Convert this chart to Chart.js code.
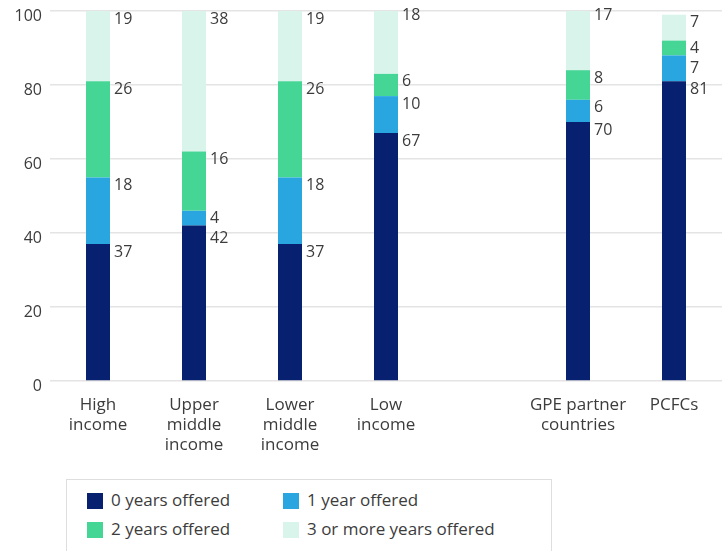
<!DOCTYPE html>
<html>
<head>
<meta charset="utf-8">
<script src="https://cdn.jsdelivr.net/npm/chart.js@4.4.1/dist/chart.umd.min.js"></script>
<style>
  body { margin: 0; background: #fff; font-family: "Open Sans", sans-serif; }
  #wrap { position: relative; width: 728px; height: 551px; overflow: hidden; }
  #chart-box { position: absolute; left: 0; top: 0; width: 728px; height: 470px; }
  #legend {
    position: absolute; left: 66px; top: 479px; width: 486px; height: 90px;
    border: 1px solid #dedede; box-sizing: border-box;
  }
  .item { position: absolute; font-size: 17px; color: #3c3c3c; line-height: 20px; white-space: nowrap; }
  .item span.sw { position: absolute; left: 0; top: 2px; width: 16px; height: 16px; }
  .item span.tx { position: absolute; left: 24px; top: -1px; }
</style>
</head>
<body>
<div id="wrap">
  <div id="chart-box"><canvas id="years-chart" width="728" height="470"></canvas></div>
  <div id="legend"></div>
</div>
<script>
var ctx = document.getElementById('years-chart');

// categories (the empty one is the spacer between income groups and GPE groups)
var categories = [
  ['High', 'income'],
  ['Upper', 'middle', 'income'],
  ['Lower', 'middle', 'income'],
  ['Low', 'income'],
  '',
  ['GPE partner', 'countries'],
  'PCFCs'
];
var seriesNames = ['0 years offered', '1 year offered', '2 years offered', '3 or more years offered'];
var zeroYears  = [37, 42, 37, 67, null, 70, 81];
var oneYear    = [18, 4, 18, 10, null, 6, 7];
var twoYears   = [26, 16, 26, 6, null, 8, 4];
var threePlus  = [19, 38, 19, 18, null, 17, 7];
var yTicks = [0, 20, 40, 60, 80, 100];

var colors = ['#072170', '#29a6e0', '#45d595', '#d9f5eb'];
var seriesValues = [zeroYears, oneYear, twoYears, threePlus];

var datasets = seriesValues.map(function (vals, i) {
  return {
    label: seriesNames[i],
    data: vals,
    backgroundColor: colors[i],
    borderWidth: 0,
    categoryPercentage: 1,
    barPercentage: 0.25
  };
});

// value labels to the right of each segment, pushed down so they don't overlap
var segmentLabels = {
  id: 'segmentLabels',
  afterDatasetsDraw: function (chart) {
    var c = chart.ctx;
    c.save();
    c.font = '16px "Open Sans"';
    c.fillStyle = '#3c3c3c';
    c.textBaseline = 'middle';
    c.textAlign = 'left';
    for (var j = 0; j < categories.length; j++) {
      var lastY = -100;
      for (var i = chart.data.datasets.length - 1; i >= 0; i--) {
        var v = chart.data.datasets[i].data[j];
        if (v == null) continue;
        var el = chart.getDatasetMeta(i).data[j];
        var y = Math.max(el.y + 8, lastY + 20);
        c.fillText(String(v), el.x + el.width / 2 + 4, y);
        lastY = y;
      }
    }
    c.restore();
  }
};

var myChart = new Chart(ctx, {
  type: 'bar',
  data: { labels: categories, datasets: datasets },
  plugins: [segmentLabels],
  options: {
    responsive: false,
    animation: false,
    layout: { padding: { top: 11, right: 6, left: 0, bottom: 0 } },
    plugins: {
      legend: { display: false },
      tooltip: { enabled: false }
    },
    scales: {
      x: {
        stacked: true,
        grid: { display: false },
        border: { display: false },
        ticks: {
          color: '#3c3c3c',
          font: { family: 'Open Sans', size: 17, lineHeight: 1.18 },
          padding: 6,
          maxRotation: 0,
          autoSkip: false
        },
        afterFit: function (scale) { scale.height = 89; }
      },
      y: {
        stacked: true,
        min: 0,
        max: 100,
        afterBuildTicks: function (scale) {
          scale.ticks = yTicks.map(function (v) { return { value: v }; });
        },
        grid: { color: '#e4e4e4', lineWidth: 1.5, drawTicks: false },
        border: { display: false },
        ticks: {
          color: '#3c3c3c',
          font: { family: 'Open Sans', size: 16 },
          padding: 8,
          labelOffset: 5
        },
        afterFit: function (scale) {
          scale.width = 50;
          scale.paddingTop = 0;
          scale.paddingBottom = 0;
        }
      }
    }
  }
});

// legend box below the chart
var legend = document.getElementById('legend');
var spots = [[20, 11], [216, 11], [20, 40], [216, 40]];
seriesNames.forEach(function (name, i) {
  var d = document.createElement('div');
  d.className = 'item';
  d.style.left = spots[i][0] + 'px';
  d.style.top = spots[i][1] + 'px';
  d.innerHTML = '<span class="sw" style="background:' + colors[i] + '"></span><span class="tx">' + name + '</span>';
  legend.appendChild(d);
});
</script>
</body>
</html>
